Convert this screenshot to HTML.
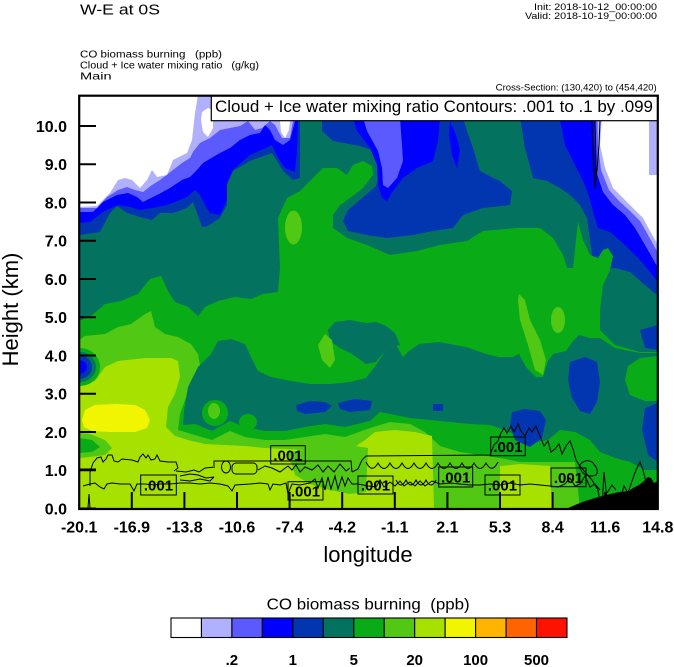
<!DOCTYPE html>
<html><head><meta charset="utf-8"><style>
html,body{margin:0;padding:0;background:#fff;}
svg{display:block;font-family:"Liberation Sans",Arial,sans-serif;}
</style></head><body>
<svg width="674" height="667" viewBox="0 0 674 667" xmlns="http://www.w3.org/2000/svg">
<rect width="674" height="667" fill="#fff"/>
<defs><clipPath id="pc"><rect x="79" y="95" width="579" height="414"/></clipPath></defs>

<g clip-path="url(#pc)">
<rect x="79" y="95" width="579" height="414" fill="#037360"/>

<!-- low value layers (top) -->
<g fill="#0236b0">
<polygon points="79,95 300,95 300,178 293,180 283,171 277,161 272,153 250,161 233,171 227,185 227,205 220,218 208,226 202,227 197,213 193,202 187,208 173,213 160,213 152,220 140,217 127,213 117,206 110,213 100,232 79,235"/>
<polygon points="322,95 322,131 333,141 360,146 372,150 378,160 379,175 376,186 362,198 347,211 343,221 348,231 367,235 387,238 413,235 433,231 453,228 463,215 483,208 510,205 512,191 500,181 493,178 480,171 473,148 467,131 463,118 463,95"/>
<polygon points="520,95 520,118 525,148 533,178 547,181 560,188 570,195 580,205 587,218 590,240 593,262 600,270 615,268 630,272 645,285 657,295 658,95"/>
</g>
<g fill="#0000ff">
<polygon points="79,95 298,95 298,121 297,150 295,172 285,168 278,158 272,145 266,148 250,155 233,170 227,183 227,200 220,215 210,213 205,205 200,195 195,190 187,197 180,200 167,205 153,208 140,210 130,207 118,205 103,212 90,222 79,223"/>
<polygon points="353,95 440,95 440,118 438,141 433,161 417,168 403,178 393,191 387,201 382,198 378,185 377,165 370,148 357,131 353,118"/>
<polygon points="450,121 456,135 460,150 457,168 452,155 449,135"/>
<polygon points="560,95 560,120 565,145 575,165 585,185 590,200 594,215 598,228 610,232 625,245 640,260 650,272 658,282 658,95"/>
</g>
<g fill="#5a5aff">
<polygon points="79,95 295,95 295,121 290,140 283,145 275,140 270,130 265,125 260,133 250,135 240,140 230,148 220,153 203,163 197,170 190,177 182,180 170,188 157,195 143,202 137,197 128,193 117,195 103,202 93,212 79,212"/>
<polygon points="363,95 400,95 400,118 402,145 403,161 397,178 388,188 383,185 382,168 378,151 367,131 363,118"/>
<polygon points="594,95 595,150 597,174 603,192 613,205 625,215 635,228 645,245 658,268 658,95"/>
</g>
<g fill="#b0b0ff">
<polygon points="79,95 293,95 293,121 290,138 282,138 275,125 270,121 262,128 255,130 248,121 240,126 230,128 220,130 210,138 200,143 193,152 190,158 182,163 173,170 160,180 152,185 143,192 135,190 127,187 118,190 107,197 97,208 79,208"/>
<polygon points="597,95 598,145 601,170 609,190 619,201 630,211 640,221 648,235 658,253 658,95"/>
</g>
<g fill="#ffffff">
<polygon points="79,95 198,95 195,113 192,140 187,153 173,160 167,175 157,177 152,170 147,180 140,188 132,180 125,178 118,180 110,193 103,200 97,206 79,207"/>
<polygon points="202,112 208,108 213,110 213,128 208,137 203,132 201,120"/>
<polygon points="280,121 290,121 289,130 285,138 281,132"/>
<polygon points="601,95 601.7,121 600,145 605,168 613,188 623,198 633,208 643,218 650,231 658,245 658,95"/>
</g>
<rect x="649" y="121" width="9" height="54" fill="#b0b0ff"/>

<!-- high value layers -->
<polygon fill="#09ac16" points="79,321 91,316 105,304 121,301 138,294 150,279 161,276 168,291 175,302 188,307 198,316 205,307 218,301 235,297 251,299 263,294 278,292 280,268 278,218 287,198 300,191 313,178 323,168 337,168 347,175 353,165 363,161 372,166 373,175 363,188 350,198 340,205 333,215 333,228 347,238 367,245 390,255 417,251 440,245 467,241 483,231 517,228 540,228 553,238 563,255 567,268 573,268 578,222 583,240 590,255 598,258 603,250 608,248 613,256 610,270 603,285 600,310 600,330 615,345 640,352 658,352 658,509 79,509"/>

<polygon fill="#50c814" points="79,340 85,336 95,335 105,334 118,327 131,324 145,314 151,311 155,327 165,334 178,337 191,344 198,354 201,371 191,384 185,400 180,414 178,430 195,435 212,440 230,431 245,437 265,440 285,440 305,437 325,434 345,437 370,428 390,422 410,424 425,432 440,446 460,452 480,455 500,458 520,462 540,462 560,462 575,462 580,509 79,509"/>
<polygon fill="#a6e100" points="79,384 95,381 105,367 118,361 145,358 171,358 178,361 180,377 175,394 168,407 166,427 175,436 188,440 205,444 225,445 245,446 265,448 285,449 305,450 330,451 350,450 365,440 375,432 395,430 415,432 432,436 434,509 79,509"/>
<polygon fill="#f2f500" points="82,420 85,410 95,405 115,404 135,405 145,410 150,420 147,428 135,432 110,432 92,431 84,427"/>
<polygon fill="#50c814" points="79,433 90,434 105,440 112,448 105,455 90,457 79,458"/>
<polygon fill="#09ac16" points="79,438 92,440 100,447 92,452 79,453"/>
<polygon fill="#50c814" points="288,452 320,448 355,446 368,448 366,492 350,494 330,490 310,484 295,475"/>
<polygon fill="#a6e100" points="500,466 520,464 550,466 552,509 500,509"/>

<!-- teal middle band -->
<polygon fill="#037360" points="183,425 184,411 188,387 198,367 211,354 218,341 231,339 245,344 251,357 258,371 271,377 291,381 311,384 331,384 350,382 366,378 376,365 386,350 396,345 403,357 409,351 419,344 439,342 466,347 486,354 499,357 513,357 519,354 526,367 536,377 543,377 548,361 553,354 566,351 573,341 579,335 590,338 600,338 615,348 640,353 658,353 658,356 640,358 628,366 625,380 630,395 645,401 658,401 658,470 645,470 630,462 615,458 600,452 590,440 575,432 560,430 548,440 536,442 520,437 505,430 490,425 470,424 450,422 430,420 410,418 390,414 380,412 370,421 345,427 325,424 305,427 285,431 265,431 245,427 230,421 212,431 195,424"/>
<polygon fill="#037360" points="328,330 335,322 350,320 366,323 376,322 386,326 395,333 400,345 396,346 386,350 376,362 366,364 352,354 340,348 330,341"/>
<ellipse cx="215" cy="413" rx="13" ry="13" fill="#09ac16"/>
<ellipse cx="214" cy="411" rx="6" ry="8" fill="#50c814"/>
<ellipse cx="248" cy="422" rx="9" ry="8" fill="#09ac16"/>

<!-- blue patches in teal -->
<g fill="#0236b0">
<polygon points="296,405 310,401 325,402 332,406 325,412 305,414 297,411"/>
<polygon points="338,403 355,399 372,401 370,410 350,412 340,409"/>
<polygon points="433,404 443,404 443,411 433,411"/>
<polygon points="570,362 585,357 597,362 600,382 597,402 590,414 580,411 572,398 568,380"/>
<polygon points="512,412 525,409 540,411 546,420 542,438 530,447 515,440 510,426"/>
<polygon points="645,408 658,403 658,462 648,455 642,430"/>
<polygon points="640,330 658,325 658,350 645,348"/>
</g>

<!-- light green streaks -->
<g fill="#50c814">
<ellipse cx="293.5" cy="227.5" rx="8.5" ry="17"/>
<polygon points="318,345 325,334 332,340 335,360 330,368 322,360"/>
<polygon points="519,294 525,300 530,320 540,340 546,360 543,375 535,370 528,345 520,320 518,300"/>
<ellipse cx="558" cy="320" rx="7" ry="13"/>
</g>

<!-- left edge blue blob -->
<ellipse cx="80" cy="367" rx="20" ry="19" fill="#09ac16"/>
<ellipse cx="80" cy="367" rx="16" ry="15" fill="#037360"/>
<ellipse cx="79" cy="367" rx="13" ry="12" fill="#0236b0"/>
<ellipse cx="79" cy="367" rx="8" ry="7" fill="#0000ff"/>

<!-- terrain -->
<polygon fill="#000" points="566,509 575,505 585,501 595,498 606,495 619,492 629,491 633,488 639,485 644,481 648,477 651,478 654,483 658,481 658,509"/>

<!-- contour lines -->
<g fill="none" stroke="#000" stroke-width="1">
<path d="M90,486 L90,472 L93,463 L97,458 L101,457 L103,462 L106,459 L108,455 L112,455 L114,461 L118,462 L122,459 L132,460 L138,462 L140,457 L143,454 L146,458 L148,455 L151,460 L155,459 L157,455 L160,461 L168,462 L176,462 L178,468 L174,471"/>
<path d="M214,466 L214,461 L351,461 L352,472"/>
<path d="M352,472 L358,469 L362,460 L366,456 L490,455 L494,445 L498,441 L501,433 L504,428 L507,433 L511,426 L514,432 L518,424 L521,431 L525,436 L529,428 L532,432 L536,426 L540,436 L544,446 L548,441 L551,452 L555,449 L559,444 L562,454 L566,446 L570,441 L573,449 L576,460 L580,466 L585,472 L592,480 L598,490 L601,508"/>
<path d="M176,471 L186,472 L194,470 L199,472 L205,468 L215,467"/>
<path d="M180,476 L190,474 L198,475 L206,478 L214,477 M180,480 L190,481 L200,479 L210,481 L214,477"/>
<ellipse cx="226" cy="467" rx="4.5" ry="6"/>
<rect x="232" y="463" width="25" height="11" rx="4"/>
<path d="M258,470 L265,466 L272,468 L280,472 L288,466 L292,470 L296,465 L300,472 L305,467 L312,470 L318,465 L323,472 L328,466 L334,472 L340,464 L346,471 L350,468"/>
<path d="M366,462 Q372,474 378,463 Q384,474 390,463 Q396,474 402,463 Q408,474 414,463 Q420,474 426,463 Q432,474 438,463 Q444,474 450,463 Q456,474 462,463 Q468,474 474,463 Q480,474 486,463 Q492,474 498,462"/>
<path d="M396,480 Q401,490 406,480 Q411,490 416,480 Q421,490 426,480 Q431,490 436,480"/>
<path d="M83,486 L90,484 L95,483 L100,487 L104,489 L107,484 L112,483 L120,484 L130,484 L134,491 L137,484 L145,484 L155,485 L160,484 L170,484 L180,483 L190,483 L200,484 L210,483 L220,484 L228,486 L232,491 L235,485 L250,484 L260,483 L268,484 L270,490 L273,484 L280,485 L286,483 L288,494 L292,484 L300,485 L310,483 L315,479 L318,488 L322,478 L325,490 L328,477 L331,489 L335,476 L338,489 L342,477 L345,486 L348,478 L352,484 L358,484 L368,486 L376,487 L380,480 L384,487 L390,482 L395,486 L400,481 L404,486 L410,482 L415,486 L420,481 L425,486 L432,481 L440,484 L450,483 L460,484 L470,485 L480,485 L490,484 L500,485 L510,483 L520,485 L530,484 L540,485 L550,486 L558,487 L565,484 L570,478 L575,486 L580,484 L585,476 L590,487 L595,484 L600,490"/>
<path d="M579,466 Q585,458 592,462 Q600,470 596,475 Q588,478 582,472 Z"/>
<path d="M602,508 L604,472 L606,490 L608,508"/>
<path d="M620,500 L624,486 L628,493 L632,481 L636,470 L640,462 L643,470 L646,482 L650,495"/>
<path d="M607,493 L612,485 L616,490"/>
<path d="M88,508 L89,494 L90,508"/>
<path d="M79,469 L96,469"/>
<path d="M592,121 L593,150 L594,172 L595,188 L597,170 L599,145 L600,121 M595,121 L596,160 L596,180"/>
</g>

<!-- contour labels -->
<g fill="none" stroke="#000" stroke-width="1">
<rect x="140.7" y="475" width="35.6" height="20"/>
<rect x="270.7" y="445.7" width="34.6" height="18.3"/>
<rect x="288" y="481.7" width="35" height="18.3"/>
<rect x="358" y="476" width="35" height="18"/>
<rect x="438.7" y="467" width="34" height="20"/>
<rect x="485" y="475" width="35" height="20"/>
<rect x="490.7" y="437" width="34.6" height="18.7"/>
<rect x="551" y="468" width="35" height="18.7"/>
</g>
<g font-size="15" font-weight="bold" text-anchor="middle" fill="#000">
<text x="158.5" y="490.5">.001</text>
<text x="288" y="460.5">.001</text>
<text x="305.5" y="496.5">.001</text>
<text x="375.5" y="490.5">.001</text>
<text x="455.7" y="482.5">.001</text>
<text x="502.5" y="490.5">.001</text>
<text x="508" y="451.8">.001</text>
<text x="568.5" y="483">.001</text>
</g>
</g>

<!-- contour info box -->
<rect x="211.3" y="95.7" width="446.5" height="25" fill="#fff" stroke="#000" stroke-width="1.2"/>
<text x="215" y="112" font-size="17" textLength="438" lengthAdjust="spacingAndGlyphs">Cloud + Ice water mixing ratio Contours: .001 to .1 by .099</text>

<!-- frame -->
<rect x="79.2" y="95.7" width="578.6" height="413.3" fill="none" stroke="#000" stroke-width="2.2"/>

<!-- ticks -->
<g stroke="#000" stroke-width="2">
<line x1="79" y1="508.5" x2="96" y2="508.5"/>
<line x1="79" y1="470.25" x2="96" y2="470.25"/>
<line x1="79" y1="432" x2="96" y2="432"/>
<line x1="79" y1="393.75" x2="96" y2="393.75"/>
<line x1="79" y1="355.5" x2="96" y2="355.5"/>
<line x1="79" y1="317.25" x2="96" y2="317.25"/>
<line x1="79" y1="279" x2="96" y2="279"/>
<line x1="79" y1="240.75" x2="96" y2="240.75"/>
<line x1="79" y1="202.5" x2="96" y2="202.5"/>
<line x1="79" y1="164.25" x2="96" y2="164.25"/>
<line x1="79" y1="126" x2="96" y2="126"/>
<line x1="131.8" y1="509" x2="131.8" y2="492"/>
<line x1="184.4" y1="509" x2="184.4" y2="492"/>
<line x1="237" y1="509" x2="237" y2="492"/>
<line x1="289.6" y1="509" x2="289.6" y2="492"/>
<line x1="342.2" y1="509" x2="342.2" y2="492"/>
<line x1="394.8" y1="509" x2="394.8" y2="492"/>
<line x1="447.4" y1="509" x2="447.4" y2="492"/>
<line x1="500" y1="509" x2="500" y2="492"/>
<line x1="552.6" y1="509" x2="552.6" y2="492"/>
<line x1="605.2" y1="509" x2="605.2" y2="492"/>
</g>

<!-- y tick labels -->
<g font-size="16" font-weight="bold" text-anchor="end" fill="#000">
<text x="67" y="514.3">0.0</text>
<text x="67" y="476">1.0</text>
<text x="67" y="437.8">2.0</text>
<text x="67" y="399.5">3.0</text>
<text x="67" y="361.3">4.0</text>
<text x="67" y="323">5.0</text>
<text x="67" y="284.8">6.0</text>
<text x="67" y="246.5">7.0</text>
<text x="67" y="208.3">8.0</text>
<text x="67" y="170">9.0</text>
<text x="67" y="131.8">10.0</text>
</g>
<!-- x tick labels -->
<g font-size="16" font-weight="bold" text-anchor="middle" fill="#000">
<text x="79.2" y="532.7">-20.1</text>
<text x="131.8" y="532.7">-16.9</text>
<text x="184.4" y="532.7">-13.8</text>
<text x="237" y="532.7">-10.6</text>
<text x="289.6" y="532.7">-7.4</text>
<text x="342.2" y="532.7">-4.2</text>
<text x="394.8" y="532.7">-1.1</text>
<text x="447.4" y="532.7">2.1</text>
<text x="500" y="532.7">5.3</text>
<text x="552.6" y="532.7">8.4</text>
<text x="605.2" y="532.7">11.6</text>
<text x="657.8" y="532.7">14.8</text>
</g>

<!-- axis titles -->
<text x="368" y="562" font-size="22" text-anchor="middle">longitude</text>
<text transform="translate(18,309.5) rotate(-90)" font-size="22" text-anchor="middle">Height (km)</text>

<!-- header texts -->
<text x="80" y="14.5" font-size="14.5" textLength="80" lengthAdjust="spacingAndGlyphs">W-E at 0S</text>
<text x="534" y="9.8" font-size="9.5" textLength="123" lengthAdjust="spacingAndGlyphs">Init: 2018-10-12_00:00:00</text>
<text x="525" y="19" font-size="9.5" textLength="132" lengthAdjust="spacingAndGlyphs">Valid: 2018-10-19_00:00:00</text>
<text x="80" y="57.3" font-size="10" textLength="142" lengthAdjust="spacingAndGlyphs" xml:space="preserve">CO biomass burning   (ppb)</text>
<text x="80" y="68.3" font-size="10" textLength="179" lengthAdjust="spacingAndGlyphs" xml:space="preserve">Cloud + Ice water mixing ratio   (g/kg)</text>
<text x="80" y="79.7" font-size="10" textLength="31.7" lengthAdjust="spacingAndGlyphs">Main</text>
<text x="495.7" y="90.5" font-size="9.5" textLength="161" lengthAdjust="spacingAndGlyphs">Cross-Section: (130,420) to (454,420)</text>

<!-- colorbar -->
<text x="266.7" y="609.5" font-size="16" textLength="203" lengthAdjust="spacingAndGlyphs" xml:space="preserve">CO biomass burning  (ppb)</text>
<g stroke="#000" stroke-width="1.1">
<rect x="171" y="618" width="30.46" height="19.5" fill="#ffffff"/>
<rect x="201.46" y="618" width="30.46" height="19.5" fill="#b0b0ff"/>
<rect x="231.92" y="618" width="30.46" height="19.5" fill="#5a5aff"/>
<rect x="262.38" y="618" width="30.46" height="19.5" fill="#0000ff"/>
<rect x="292.84" y="618" width="30.46" height="19.5" fill="#0236b0"/>
<rect x="323.3" y="618" width="30.46" height="19.5" fill="#037360"/>
<rect x="353.76" y="618" width="30.46" height="19.5" fill="#09ac16"/>
<rect x="384.22" y="618" width="30.46" height="19.5" fill="#50c814"/>
<rect x="414.68" y="618" width="30.46" height="19.5" fill="#a6e100"/>
<rect x="445.14" y="618" width="30.46" height="19.5" fill="#f2f500"/>
<rect x="475.6" y="618" width="30.46" height="19.5" fill="#ffb400"/>
<rect x="506.06" y="618" width="30.46" height="19.5" fill="#ff6400"/>
<rect x="536.52" y="618" width="30.46" height="19.5" fill="#ff1100"/>
</g>
<g font-size="15" font-weight="bold" text-anchor="middle" fill="#000">
<text x="231.9" y="665">.2</text>
<text x="292.8" y="665">1</text>
<text x="353.8" y="665">5</text>
<text x="414.7" y="665">20</text>
<text x="475.6" y="665">100</text>
<text x="536.5" y="665">500</text>
</g>
</svg>
</body></html>
